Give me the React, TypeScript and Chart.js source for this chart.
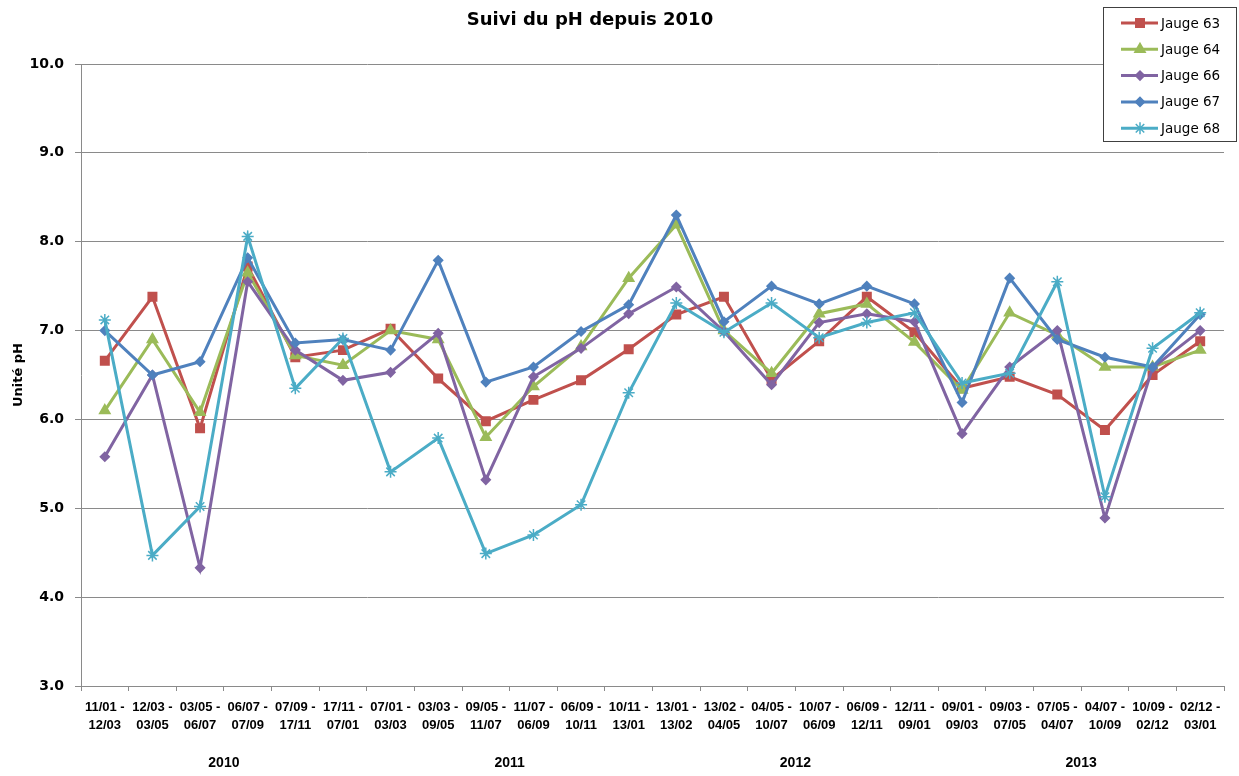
import React, { useEffect, useRef } from "react";
import { Chart, registerables } from "chart.js";
import { drawPoint } from "chart.js/helpers";

Chart.register(...registerables);

const startDates = ["11/01", "12/03", "03/05", "06/07", "07/09", "17/11", "07/01", "03/03", "09/05", "11/07", "06/09", "10/11", "13/01", "13/02", "04/05", "10/07", "06/09", "12/11", "09/01", "09/03", "07/05", "04/07", "10/09", "02/12"];
const endDates = ["12/03", "03/05", "06/07", "07/09", "17/11", "07/01", "03/03", "09/05", "11/07", "06/09", "10/11", "13/01", "13/02", "04/05", "10/07", "06/09", "12/11", "09/01", "09/03", "07/05", "04/07", "10/09", "02/12", "03/01"];
const years = ["2010", "2011", "2012", "2013"];
const periodsPerYear = 6;

const yTicksMin = 3;
const yTicksMax = 10;

const jauge63 = [6.66, 7.38, 5.9, 7.72, 6.7, 6.78, 7.02, 6.46, 5.98, 6.22, 6.44, 6.79, 7.18, 7.38, 6.45, 6.88, 7.38, 6.98, 6.35, 6.48, 6.28, 5.88, 6.5, 6.88];
const jauge64 = [6.1, 6.9, 6.08, 7.65, 6.72, 6.61, 7.0, 6.9, 5.8, 6.37, 6.82, 7.59, 8.19, 7.0, 6.52, 7.19, 7.3, 6.87, 6.33, 7.2, 6.95, 6.59, 6.59, 6.78];
const jauge66 = [5.58, 6.5, 4.33, 7.55, 6.78, 6.44, 6.53, 6.97, 5.32, 6.48, 6.8, 7.19, 7.49, 6.99, 6.39, 7.09, 7.19, 7.1, 5.84, 6.59, 7.0, 4.89, 6.58, 7.0];
const jauge67 = [7.0, 6.5, 6.65, 7.82, 6.86, 6.9, 6.78, 7.79, 6.42, 6.59, 6.99, 7.29, 8.3, 7.1, 7.5, 7.3, 7.5, 7.3, 6.19, 7.59, 6.9, 6.7, 6.59, 7.18];
const jauge68 = [7.12, 4.47, 5.02, 8.06, 6.35, 6.91, 5.41, 5.79, 4.49, 4.7, 5.04, 6.3, 7.31, 6.98, 7.31, 6.92, 7.09, 7.2, 6.41, 6.52, 7.55, 5.13, 6.8, 7.2];

const seriesNames = ["Jauge 63", "Jauge 64", "Jauge 66", "Jauge 67", "Jauge 68"];
const seriesData = [jauge63, jauge64, jauge66, jauge67, jauge68];
const seriesColors = ["#C0504D", "#9BBB59", "#8064A2", "#4F81BD", "#4BACC6"];
const seriesMarkers = ["rect", "triangle", "rectRot", "rectRot", "star"];
const seriesRadius = [6, 6, 4.5, 4.5, 6];

const titleText = "Suivi du pH depuis 2010";
const yTitle = "Unité pH";

const GRID = "#8a8a8a";

const overlayPlugin = {
  id: "overlay",
  afterDraw(chart: any) {
    const ctx = chart.ctx;
    const x = chart.scales.x;
    ctx.save();
    // title
    ctx.fillStyle = "#000";
    ctx.font = "bold 18px 'DejaVu Sans'";
    ctx.textAlign = "center";
    ctx.textBaseline = "middle";
    ctx.fillText(titleText, 590, 20);

    // year group labels
    ctx.font = "bold 14px 'Liberation Sans'";
    years.forEach((yr, g) => {
      const a = x.getPixelForValue(g * periodsPerYear);
      const b = x.getPixelForValue(g * periodsPerYear + periodsPerYear - 1);
      ctx.fillText(yr, (a + b) / 2, 763);
    });

    // legend box
    const bx = 1103, by = 7, bw = 133, bh = 134;
    ctx.fillStyle = "#fff";
    ctx.fillRect(bx, by, bw, bh);
    ctx.strokeStyle = "#404040";
    ctx.lineWidth = 1;
    ctx.strokeRect(bx + 0.5, by + 0.5, bw, bh);
    ctx.font = "13.5px 'DejaVu Sans'";
    ctx.textAlign = "left";
    seriesNames.forEach((name, i) => {
      const yy = 23 + i * 26.3;
      ctx.strokeStyle = seriesColors[i];
      ctx.lineWidth = 3;
      ctx.beginPath();
      ctx.moveTo(1121, yy);
      ctx.lineTo(1158, yy);
      ctx.stroke();
      ctx.fillStyle = seriesColors[i];
      ctx.lineWidth = 1.5;
      drawPoint(ctx, { pointStyle: seriesMarkers[i], radius: seriesRadius[i], rotation: 0, borderWidth: 1.5 }, 1140, yy);
      ctx.fillStyle = "#000";
      ctx.fillText(name, 1161, yy + 1);
    });
    ctx.restore();
  },
};

export default function App() {
  const ref = useRef<HTMLCanvasElement>(null);
  useEffect(() => {
    if (!ref.current) return;
    const labels = startDates.map((s, i) => [s + " -", endDates[i]]);
    const chart = new Chart(ref.current, {
      type: "line",
      data: {
        labels,
        datasets: seriesNames.map((name, i) => ({
          label: name,
          data: seriesData[i],
          borderColor: seriesColors[i],
          backgroundColor: seriesColors[i],
          pointBackgroundColor: seriesColors[i],
          pointBorderColor: seriesColors[i],
          pointStyle: seriesMarkers[i] as any,
          pointRadius: seriesRadius[i],
          pointBorderWidth: 1.5,
          borderWidth: 3,
          tension: 0,
          order: seriesNames.length - 1 - i,
        })),
      },
      options: {
        responsive: false,
        animation: false,
        layout: { padding: { top: 64, right: 15, left: 0, bottom: 0 } },
        plugins: {
          legend: { display: false },
          title: { display: false },
          tooltip: { enabled: false },
        },
        scales: {
          x: {
            type: "category",
            offset: true,
            grid: { offset: true, drawOnChartArea: false, drawTicks: true, tickLength: 5, color: GRID },
            border: { color: GRID },
            ticks: {
              autoSkip: false,
              maxRotation: 0,
              minRotation: 0,
              color: "#000",
              padding: 7,
              font: { family: "'Liberation Sans'", weight: "bold", size: 13, lineHeight: 1.4 },
            },
            afterFit: (s: any) => {
              s.height = 90;
            },
          },
          y: {
            min: yTicksMin,
            max: yTicksMax,
            ticks: {
              stepSize: 1,
              color: "#000",
              padding: 11,
              font: { family: "'DejaVu Sans'", weight: "bold", size: 14 },
              callback: (v: any) => Number(v).toFixed(1),
            },
            grid: { color: GRID, tickLength: 6 },
            border: { color: GRID },
            title: {
              display: true,
              text: yTitle,
              color: "#000",
              font: { family: "'DejaVu Sans'", weight: "bold", size: 13 },
              padding: { top: 11, bottom: 0 },
            },
            afterFit: (s: any) => {
              s.width = 81;
            },
          },
        },
      },
      plugins: [overlayPlugin],
    });
    return () => chart.destroy();
  }, []);
  return (
    <div style={{ position: "fixed", left: 0, top: 0, width: 1239, height: 776, background: "#fff" }}>
      <canvas ref={ref} width={1239} height={776} />
    </div>
  );
}
